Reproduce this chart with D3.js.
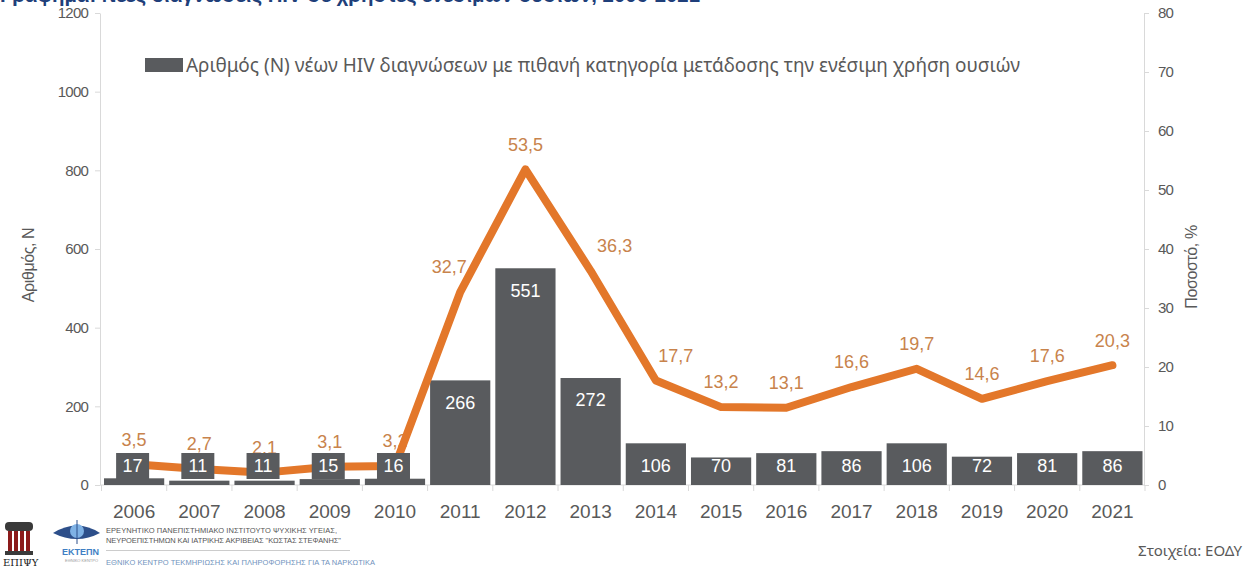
<!DOCTYPE html>
<html lang="el">
<head>
<meta charset="UTF-8">
<script src="https://d3js.org/d3.v7.min.js"></script>
<style>
    body { margin: 0; background: #fff; }
    .axis path, .axis line { stroke: #d9d9d9; }
    .axis text { fill: #595959; font-family: "Liberation Sans", Arial, sans-serif; font-size: 15px; letter-spacing: -0.8px; }
    .xaxis text { font-size: 19px; letter-spacing: 0; }
    .bar-label { fill: #fff; font-family: "Liberation Sans", Arial, sans-serif; font-size: 18px; text-anchor: middle; }
    .pct-label { fill: #c8834c; font-family: "Liberation Sans", Arial, sans-serif; font-size: 18px; text-anchor: middle; }
    .axis-title { fill: #595959; font-family: "Liberation Sans", Arial, sans-serif; font-size: 16px; text-anchor: middle; letter-spacing: -0.4px; }
</style>
</head>
<body>
<svg id="chart" width="1254" height="568"></svg>
<script>
const years = ["2006","2007","2008","2009","2010","2011","2012","2013","2014","2015","2016","2017","2018","2019","2020","2021"];
const counts = [17, 11, 11, 15, 16, 266, 551, 272, 106, 70, 81, 86, 106, 72, 81, 86];
const percents = [3.5, 2.7, 2.1, 3.1, 3.2, 32.7, 53.5, 36.3, 17.7, 13.2, 13.1, 16.6, 19.7, 14.6, 17.6, 20.3];
const countTicks = [0, 200, 400, 600, 800, 1000, 1200];
const pctTicks = [0, 10, 20, 30, 40, 50, 60, 70, 80];
const legendText = "Αριθμός (Ν) νέων HIV διαγνώσεων με πιθανή κατηγορία μετάδοσης την ενέσιμη χρήση ουσιών";

const svg = d3.select("#chart");
const barColor = "#595b5e";
const lineColor = "#e3772a";

const x = d3.scaleBand().domain(years).range([101.5, 1145]).padding(0);
const yL = d3.scaleLinear().domain([0, 1200]).range([485, 13]);
const yR = d3.scaleLinear().domain([0, 80]).range([485, 13]);
const cx = d => x(d) + x.bandwidth() / 2;
const gr = d3.formatLocale({decimal: ",", thousands: ".", grouping: [3], currency: ["", "€"]}).format(".1f");

const data = years.map((y, i) => ({year: y, n: counts[i], p: percents[i]}));

// title of the slide, cut off at the top edge
svg.append("text")
    .attr("x", 0).attr("y", 2)
    .attr("fill", "#1f3f7a")
    .attr("font-family", "Liberation Sans, Arial, sans-serif")
    .attr("font-weight", "bold")
    .attr("font-size", 21)
    .attr("textLength", 700)
    .attr("lengthAdjust", "spacingAndGlyphs")
    .text("Γράφημα: Νέες διαγνώσεις HIV σε χρήστες ενέσιμων ουσιών, 2006-2021");

// axes
svg.append("g").attr("class", "axis")
    .attr("transform", "translate(100,0)")
    .call(d3.axisLeft(yL).tickValues(countTicks).tickFormat(d3.format("d")).tickSize(5).tickSizeOuter(0).tickPadding(7));
svg.append("g").attr("class", "axis")
    .attr("transform", "translate(1144,0)")
    .call(d3.axisRight(yR).tickValues(pctTicks).tickSize(5).tickSizeOuter(0).tickPadding(9));

const xa = svg.append("g").attr("class", "axis xaxis")
    .attr("transform", "translate(0,485)")
    .call(d3.axisBottom(x).tickSize(0).tickSizeOuter(0).tickPadding(20));
xa.select(".domain").attr("d", "M100,0H1145");
xa.selectAll(".bound").data(years.map(d => x(d)).concat([x.range()[1]]))
    .enter().append("line").attr("class", "bound")
    .attr("x1", d => d).attr("x2", d => d)
    .attr("y1", 0).attr("y2", 6)
    .attr("stroke", "#d9d9d9");

// axis titles
svg.append("text").attr("class", "axis-title")
    .attr("transform", "translate(34,265) rotate(-90)")
    .text("Αριθμός, Ν");
svg.append("text").attr("class", "axis-title")
    .attr("transform", "translate(1197,267) rotate(-90)")
    .text("Ποσοστό, %");

// bars
svg.selectAll(".bar").data(data).enter().append("rect")
    .attr("class", "bar")
    .attr("x", d => x(d.year) + 2.5)
    .attr("width", x.bandwidth() - 5)
    .attr("y", d => yL(d.n))
    .attr("height", d => yL(0) - yL(d.n))
    .attr("fill", barColor);

// percentage labels (drawn under the line, as in the original)
const pctShift = {"2011": -11, "2013": 24, "2014": 20};
svg.selectAll(".pct-label").data(data).enter().append("text")
    .attr("class", "pct-label")
    .attr("x", d => cx(d.year) + (pctShift[d.year] || 0))
    .attr("y", d => yR(d.p) - 25)
    .attr("dy", "0.35em")
    .text(d => gr(d.p));

// percentage line
svg.append("path").datum(data)
    .attr("fill", "none")
    .attr("stroke", lineColor)
    .attr("stroke-width", 8)
    .attr("stroke-linejoin", "round")
    .attr("stroke-linecap", "round")
    .attr("d", d3.line().x(d => cx(d.year)).y(d => yR(d.p)));

// count labels: small bars get a dark box above the bar
const labY = d => Math.min(yL(d.n) + 22, 466);
svg.selectAll(".lab-box").data(data.filter(d => yL(0) - yL(d.n) < 26)).enter().append("rect")
    .attr("class", "lab-box")
    .attr("x", d => cx(d.year) - 18)
    .attr("y", d => labY(d) - 13)
    .attr("width", 33).attr("height", 26)
    .attr("fill", barColor);
svg.selectAll(".bar-label").data(data).enter().append("text")
    .attr("class", "bar-label")
    .attr("x", d => cx(d.year) - (yL(0) - yL(d.n) < 26 ? 1.5 : 0))
    .attr("y", d => labY(d))
    .attr("dy", "0.36em")
    .text(d => d.n);

// legend
svg.append("rect").attr("x", 145).attr("y", 58).attr("width", 38).attr("height", 14).attr("fill", barColor);
svg.append("text")
    .attr("x", 186).attr("y", 72)
    .attr("fill", "#595959")
    .attr("font-family", "Noto Sans, sans-serif")
    .attr("font-size", 20)
    .attr("textLength", 834)
    .attr("lengthAdjust", "spacingAndGlyphs")
    .text(legendText);

// source
svg.append("text")
    .attr("x", 1242).attr("y", 556)
    .attr("text-anchor", "end")
    .attr("fill", "#595959")
    .attr("font-family", "Noto Sans, sans-serif")
    .attr("font-size", 15)
    .text("Στοιχεία: ΕΟΔΥ");

// footer logos (simplified)
const logo = svg.append("g");
logo.append("rect").attr("x", 5).attr("y", 522).attr("width", 28).attr("height", 9).attr("rx", 4).attr("fill", "#3a3a3a");
[8, 14, 20, 26].forEach(px => logo.append("rect").attr("x", px).attr("y", 531).attr("width", 4).attr("height", 21).attr("fill", "#8b1a1a"));
logo.append("rect").attr("x", 5).attr("y", 551).attr("width", 28).attr("height", 4).attr("fill", "#3a3a3a");
logo.append("text").attr("x", 3).attr("y", 566)
    .attr("font-family", "DejaVu Serif, serif").attr("font-size", 10).attr("fill", "#222")
    .text("ΕΠΙΨΥ");
logo.append("path").attr("d", "M53,533 Q77,518 100,533 Q77,545 53,533 Z").attr("fill", "#2d4f8a");
logo.append("circle").attr("cx", 77).attr("cy", 531).attr("r", 7).attr("fill", "#7fb2e5");
logo.append("line").attr("x1", 77).attr("x2", 77).attr("y1", 520).attr("y2", 544).attr("stroke", "#2d4f8a");
logo.append("text").attr("x", 62).attr("y", 555)
    .attr("font-family", "Liberation Sans, sans-serif").attr("font-size", 9).attr("font-weight", "bold").attr("fill", "#3f7fc4")
    .text("ΕΚΤΕΠΝ");
logo.append("text").attr("x", 65).attr("y", 562)
    .attr("font-family", "Liberation Sans, sans-serif").attr("font-size", 4).attr("fill", "#999")
    .text("ΕΘΝΙΚΟ ΚΕΝΤΡΟ");
const smallFont = "Liberation Sans, sans-serif";
logo.append("text").attr("x", 106).attr("y", 533).attr("fill", "#555")
    .attr("font-family", smallFont).attr("font-size", 7.5).attr("textLength", 231)
    .text("ΕΡΕΥΝΗΤΙΚΟ ΠΑΝΕΠΙΣΤΗΜΙΑΚΟ ΙΝΣΤΙΤΟΥΤΟ ΨΥΧΙΚΗΣ ΥΓΕΙΑΣ,");
logo.append("text").attr("x", 106).attr("y", 543).attr("fill", "#555")
    .attr("font-family", smallFont).attr("font-size", 7.5).attr("textLength", 235)
    .text("ΝΕΥΡΟΕΠΙΣΤΗΜΩΝ ΚΑΙ ΙΑΤΡΙΚΗΣ ΑΚΡΙΒΕΙΑΣ \"ΚΩΣΤΑΣ ΣΤΕΦΑΝΗΣ\"");
logo.append("line").attr("x1", 106).attr("x2", 350).attr("y1", 550.5).attr("y2", 550.5).attr("stroke", "#ccc");
logo.append("text").attr("x", 106).attr("y", 565).attr("fill", "#6f93bd")
    .attr("font-family", smallFont).attr("font-size", 7.5).attr("textLength", 269)
    .text("ΕΘΝΙΚΟ ΚΕΝΤΡΟ ΤΕΚΜΗΡΙΩΣΗΣ ΚΑΙ ΠΛΗΡΟΦΟΡΗΣΗΣ ΓΙΑ ΤΑ ΝΑΡΚΩΤΙΚΑ");
</script>
</body>
</html>
